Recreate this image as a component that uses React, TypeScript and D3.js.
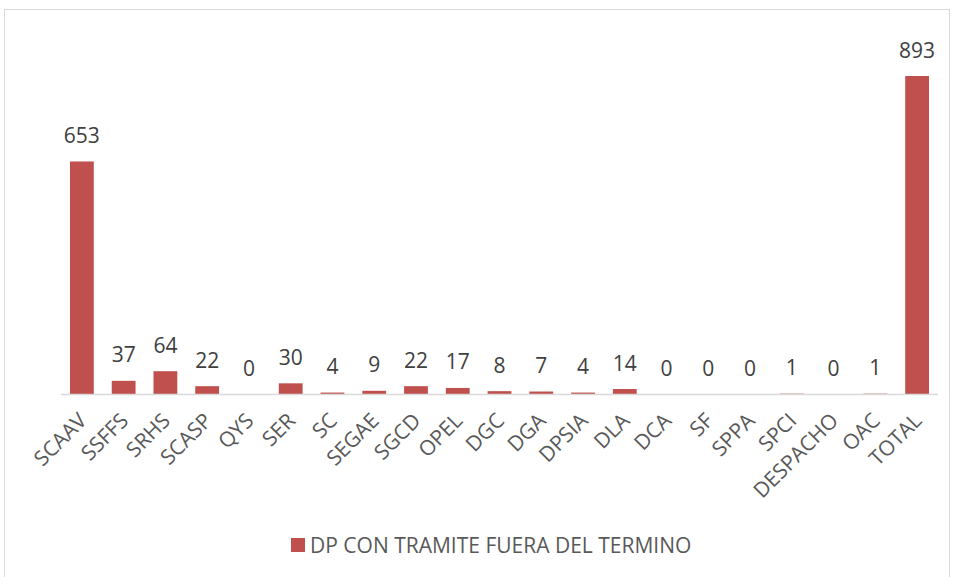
import React from "react";
import * as d3 from "d3";

const categories = [
  "SCAAV", "SSFFS", "SRHS", "SCASP", "QYS", "SER", "SC", "SEGAE", "SGCD", "OPEL",
  "DGC", "DGA", "DPSIA", "DLA", "DCA", "SF", "SPPA", "SPCI", "DESPACHO", "OAC", "TOTAL",
];
const values = [653, 37, 64, 22, 0, 30, 4, 9, 22, 17, 8, 7, 4, 14, 0, 0, 0, 1, 0, 1, 893];
const seriesName = "DP CON TRAMITE FUERA DEL TERMINO";

const W = 954;
const H = 577;
const FONT = "'Open Sans', sans-serif";
const BAR = "#C0504D";

const App = () => {
  const x = d3.scaleBand<string>().domain(categories).range([61, 938]).paddingInner(0.43).paddingOuter(0.215);
  const y = d3.scaleLinear().domain([0, 893]).range([394, 76]);

  return (
    <svg width={W} height={H} style={{ position: "absolute", left: 0, top: 0 }}>
      <rect x={0} y={0} width={W} height={H} fill="#fff" />
      <rect x={4.5} y={9.5} width={945} height={580} fill="none" stroke="#d9d9d9" />

      {categories.map((c, i) => (
        <rect
          key={c}
          x={x(c)}
          y={y(values[i])}
          width={x.bandwidth()}
          height={y(0) - y(values[i])}
          fill={BAR}
        />
      ))}

      <line x1={61} x2={938} y1={394.5} y2={394.5} stroke="#d9d9d9" strokeWidth={1.5} />

      {categories.map((c, i) => (
        <text
          key={"v" + c}
          x={(x(c) ?? 0) + x.bandwidth() / 2}
          y={y(values[i]) - 18.5}
          textAnchor="middle"
          fontFamily={FONT}
          fontSize={21}
          fill="#404040"
        >
          {values[i]}
        </text>
      ))}

      {categories.map((c) => {
        const cx = (x(c) ?? 0) + x.bandwidth() / 2 + 6;
        return (
          <text
            key={"t" + c}
            transform={`translate(${cx},${422}) rotate(-45)`}
            textAnchor="end"
            fontFamily={FONT}
            fontSize={21}
            fill="#595959"
          >
            {c}
          </text>
        );
      })}

      <rect x={291} y={538} width={14} height={14} fill={BAR} />
      <text x={310} y={553} fontFamily={FONT} fontSize={21} fill="#595959">
        {seriesName}
      </text>
    </svg>
  );
};

export default App;
